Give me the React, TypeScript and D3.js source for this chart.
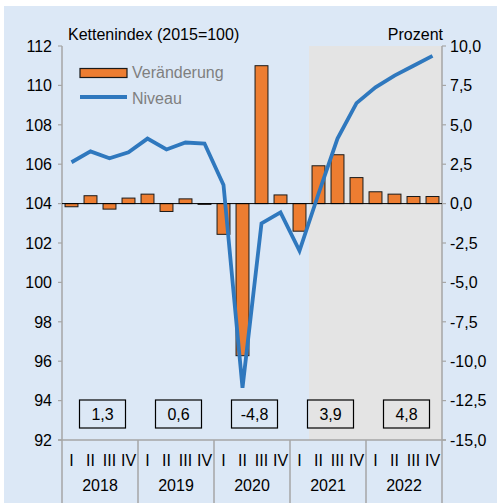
import React from "react";
import * as d3 from "d3";

// Quarterly data 2018 I – 2022 IV
const years = ["2018", "2019", "2020", "2021", "2022"];
const quarterLabels = ["I", "II", "III", "IV"];
// Veränderung gegenüber Vorquartal in % (right axis)
const change = [-0.2, 0.5, -0.35, 0.35, 0.6, -0.5, 0.3, -0.05, -1.95, -9.65, 8.75, 0.55, -1.75, 2.4, 3.1, 1.65, 0.75, 0.6, 0.45, 0.45];
// Kettenindex 2015=100 (left axis)
const niveau = [106.1, 106.65, 106.3, 106.6, 107.3, 106.75, 107.1, 107.05, 104.95, 94.65, 103.0, 103.55, 101.6, 104.5, 107.3, 109.1, 109.9, 110.5, 111.0, 111.5];
// Jahresveränderung in %
const annual = ["1,3", "0,6", "-4,8", "3,9", "4,8"];
const leftTicks = [92, 94, 96, 98, 100, 102, 104, 106, 108, 110, 112];
const rightTicks = [-15, -12.5, -10, -7.5, -5, -2.5, 0, 2.5, 5, 7.5, 10];
const forecastStart = 13; // index of 2021 II

const W = 497;
const H = 503;
const left = 62;
const right = 442;
const top = 46;
const bottom = 440;

const ORANGE = "#ed7d31";
const BLUE = "#2f78be";
const AXIS = "#a6a6a6";
const FONT = "'Liberation Sans', Arial, sans-serif";

const deLocale = d3.formatLocale({ decimal: ",", thousands: ".", grouping: [3], currency: ["", "€"], minus: "-" });
const fmt1 = deLocale.format(".1f");

export default function App() {
    const idx = d3.range(change.length);
    const x = d3.scaleBand<number>().domain(idx).range([left, right]).paddingInner(0.32).paddingOuter(0.16);
    const xStep = d3.scaleLinear().domain([0, change.length]).range([left, right]);
    const yL = d3.scaleLinear().domain([92, 112]).range([bottom, top]);
    const yR = d3.scaleLinear().domain([-15, 10]).range([bottom, top]);

    const line = d3.line<number>()
        .x((d, i) => xStep(i + 0.5))
        .y(d => yL(d));

    const yearW = xStep(4) - xStep(0);

    return (
        <svg width={W} height={H} style={{ position: "fixed", left: 0, top: 0, fontFamily: FONT }}>
            <rect x={0} y={0} width={W} height={H} fill="#ffffff" />
            <rect x={4} y={6} width={W - 4} height={H - 6} fill="#dce8f6" />

            {/* forecast shading */}
            <rect x={xStep(forecastStart)} y={top} width={right - xStep(forecastStart)} height={bottom - top} fill="#e4e4e4" />

            {/* axes */}
            <line x1={left} x2={left} y1={top} y2={H} stroke={AXIS} strokeWidth={1.5} />
            <line x1={right} x2={right} y1={top} y2={H} stroke={AXIS} strokeWidth={1.5} />
            <line x1={left - 4} x2={right + 4} y1={bottom} y2={bottom} stroke={AXIS} strokeWidth={1.5} />
            {leftTicks.map(t => (
                <g key={"l" + t}>
                    <line x1={left - 4} x2={left} y1={yL(t)} y2={yL(t)} stroke={AXIS} strokeWidth={1.2} />
                    <text x={52} y={yL(t)} dy="0.36em" textAnchor="end" fontSize={16} fill="#000">{t}</text>
                </g>
            ))}
            {rightTicks.map(t => (
                <g key={"r" + t}>
                    <line x1={right} x2={right + 4} y1={yR(t)} y2={yR(t)} stroke={AXIS} strokeWidth={1.2} />
                    <text x={450} y={yR(t)} dy="0.36em" textAnchor="start" fontSize={16} fill="#000">{fmt1(t)}</text>
                </g>
            ))}

            {/* year dividers and category labels */}
            {years.map((yr, j) => (
                <g key={yr}>
                    {j > 0 && <line x1={xStep(j * 4)} x2={xStep(j * 4)} y1={bottom} y2={H} stroke={AXIS} strokeWidth={1.5} />}
                    <text x={xStep(j * 4) + yearW / 2} y={491} textAnchor="middle" fontSize={16} fill="#000"
                        style={{ fontStretch: "condensed" }} fontFamily="'Liberation Sans Narrow', 'Arial Narrow', sans-serif">{yr}</text>
                </g>
            ))}
            {idx.map(i => (
                <text key={"q" + i} x={xStep(i + 0.5)} y={466} textAnchor="middle" fontSize={16} fill="#000"
                    fontFamily="'Liberation Sans Narrow', 'Arial Narrow', sans-serif">{quarterLabels[i % 4]}</text>
            ))}

            {/* bars */}
            {change.map((v, i) => (
                <rect key={"b" + i} x={x(i)} width={x.bandwidth()}
                    y={yR(Math.max(0, v))} height={Math.abs(yR(v) - yR(0))}
                    fill={ORANGE} stroke="#1a1a1a" strokeWidth={1} />
            ))}
            <line x1={left} x2={right} y1={yR(0)} y2={yR(0)} stroke="#000" strokeWidth={1} />

            {/* level line */}
            <path d={line(niveau) || ""} fill="none" stroke={BLUE} strokeWidth={3.8} strokeLinejoin="miter" />

            {/* annual boxes */}
            {annual.map((a, j) => {
                const cx = xStep(j * 4) + yearW / 2 + 2.5;
                return (
                    <g key={"a" + j}>
                        <rect x={cx - 23} y={400} width={46} height={28} fill="none" stroke="#000" strokeWidth={1.2} />
                        <text x={cx} y={420} textAnchor="middle" fontSize={16} fill="#000">{a}</text>
                    </g>
                );
            })}

            {/* titles */}
            <text x={68} y={40} fontSize={16} fill="#000">Kettenindex (2015=100)</text>
            <text x={443} y={40} fontSize={16} textAnchor="end" fill="#000">Prozent</text>

            {/* legend */}
            <rect x={80} y={68.5} width={47} height={9} fill={ORANGE} stroke="#1a1a1a" strokeWidth={1.2} />
            <text x={132} y={78} fontSize={16} fill="#7f7f7f">Veränderung</text>
            <line x1={80} x2={127} y1={97} y2={97} stroke={BLUE} strokeWidth={3.8} />
            <text x={132} y={104} fontSize={16} fill="#7f7f7f">Niveau</text>
        </svg>
    );
}
